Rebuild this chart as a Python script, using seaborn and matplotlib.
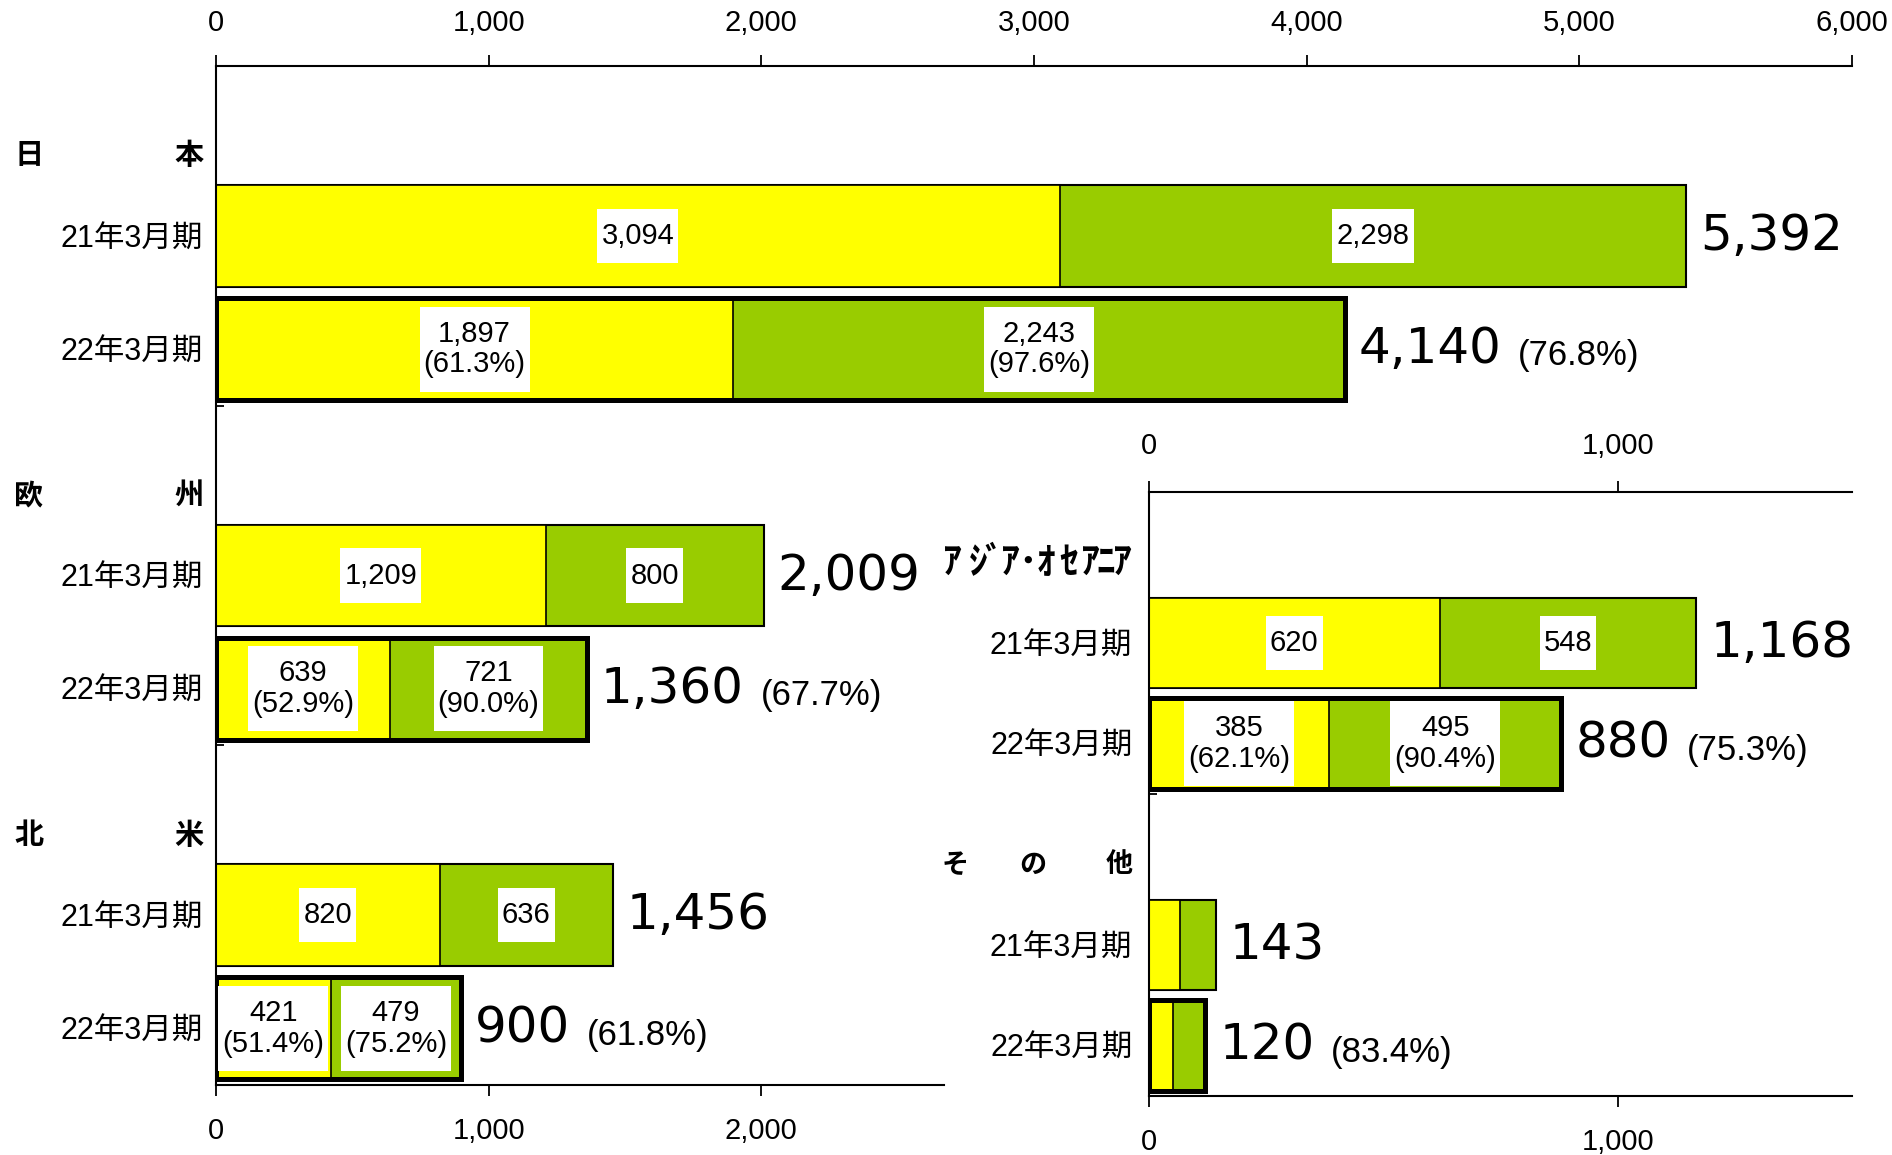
import numpy as np
import pandas as pd
import matplotlib
matplotlib.use('Agg')
import matplotlib.pyplot as plt
import matplotlib.transforms as mtransforms
from matplotlib.font_manager import FontProperties
from matplotlib.path import Path
import seaborn as sns

# ---------------- data ----------------
periods = ['21年3月期', '22年3月期']

left_regions = ['日本', '欧州', '北米']
left_head_chars = [['日', '本'], ['欧', '州'], ['北', '米']]
left_y21 = [3094, 1209, 820]
left_g21 = [2298, 800, 636]
left_y22 = [1897, 639, 421]
left_g22 = [2243, 721, 479]
left_y22_pct = ['61.3%', '52.9%', '51.4%']
left_g22_pct = ['97.6%', '90.0%', '75.2%']
left_tot_pct = ['76.8%', '67.7%', '61.8%']
left_show_seg = [True, True, True]

right_regions = ['アジア・オセアニア', 'その他']
right_head_chars = [list('ｱｼﾞｱ･ｵｾｱﾆｱ'), ['そ', 'の', '他']]
right_y21 = [620, 66]
right_g21 = [548, 77]
right_y22 = [385, 52]
right_g22 = [495, 68]
right_y22_pct = ['62.1%', '']
right_g22_pct = ['90.4%', '']
right_tot_pct = ['75.3%', '83.4%']
right_show_seg = [True, False]

left_top_ticks = [0, 1000, 2000, 3000, 4000, 5000, 6000]
left_bottom_ticks = [0, 1000, 2000]
right_ticks = [0, 1000]

YELLOW = '#FFFF00'
GREEN = '#99CC00'

# ---------------- fonts ----------------
CJK = 'Noto Sans CJK JP'
plt.rcParams['font.family'] = ['Liberation Sans', CJK, 'DejaVu Sans']
TICK_FS = 21
BAR_FS = 21
PCT_FS = 25


def numfp(size):
    return FontProperties(family='Liberation Sans', size=size)


def label_boxstyle(x0, y0, width, height, mutation_size):
    px = 0.14 * mutation_size
    py = 0.45 * mutation_size
    x0, y0 = x0 - px, y0 - py
    x1, y1 = x0 + width + 2 * px, y0 + height + 2 * py
    return Path([(x0, y0), (x1, y0), (x1, y1), (x0, y1), (x0, y0)], closed=True)


W, H = 1892, 1155
fig = plt.figure(figsize=(W / 100, H / 100), dpi=100)
fig.patch.set_facecolor('white')

def px_axes(l, t, r, b):
    return [l / W, 1 - b / H, (r - l) / W, (b - t) / H]

axL = fig.add_axes(px_axes(216, 66, 1852, 1085))
axR = fig.add_axes(px_axes(1149, 492, 1852, 1096))
axR.set_zorder(3)
axR.set_facecolor('white')


def build(regions, y21, g21, y22, g22):
    rows, order = [], []
    for i, r in enumerate(regions):
        order.append(f'{r}|h')
        for p, yv, gv in ((periods[0], y21[i], g21[i]), (periods[1], y22[i], g22[i])):
            key = f'{r}|{p}'
            order.append(key)
            rows.append(dict(key=key, region=r, period=p, yellow=yv, green=gv, total=yv + gv))
    return pd.DataFrame(rows), order


def draw(ax, df, order):
    common = dict(y='key', order=order, orient='h', width=0.9, errorbar=None, ax=ax)
    sns.barplot(data=df, x='total', color=GREEN, saturation=1, edgecolor='black', linewidth=1.5, **common)
    sns.barplot(data=df, x='yellow', color=YELLOW, saturation=1, edgecolor='black', linewidth=1.2, **common)
    sns.barplot(data=df[df.period == periods[1]], x='total', color='black', fill=False,
                edgecolor='black', linewidth=3.6, **common)
    ax.set_xlabel('')
    ax.set_ylabel('')


def label_box(ax, x, y, s):
    ax.text(x, y, s, ha='center', va='center', fontproperties=numfp(BAR_FS),
            linespacing=1.12, zorder=5,
            bbox=dict(boxstyle=label_boxstyle, facecolor='white', edgecolor='none'))


def annotate(ax, df, order, regions, y22p, g22p, totp, show):
    for i, r in enumerate(regions):
        for j, p in enumerate(periods):
            row = df[(df['region'] == r) & (df['period'] == p)].iloc[0]
            pos = order.index(row['key'])
            yv, gv, tv = int(row['yellow']), int(row['green']), int(row['total'])
            if show[i]:
                if j == 0:
                    ys = f'{yv:,}'
                    gs = f'{gv:,}'
                else:
                    ys = f'{yv:,}\n({y22p[i]})'
                    gs = f'{gv:,}\n({g22p[i]})'
                label_box(ax, yv / 2, pos, ys)
                label_box(ax, yv + gv / 2, pos, gs)
            t = ax.annotate(f'{tv:,}', xy=(tv, pos), xytext=(10, 0),
                            textcoords='offset points', ha='left', va='center',
                            fontsize=36, family='DejaVu Sans', annotation_clip=False)
            if j == 1:
                ax.annotate(f'({totp[i]})', xy=(1, 0.5), xycoords=t, xytext=(12, -5),
                            textcoords='offset points', ha='left', va='center',
                            fontproperties=numfp(PCT_FS))


def style(ax, order, minor):
    for s in ax.spines.values():
        s.set_linewidth(1.5)
        s.set_color('black')
    ax.spines['right'].set_visible(False)
    pos = [k for k, c in enumerate(order) if not c.endswith('|h')]
    ax.set_yticks(pos, [c.split('|')[1] for c in order if not c.endswith('|h')])
    for lab in ax.get_yticklabels():
        lab.set_fontsize(22)
        lab.set_family(['Liberation Sans', CJK])
    ax.tick_params(axis='y', which='major', length=0)
    ax.set_yticks(minor, minor=True)
    ax.tick_params(axis='y', which='minor', length=6, width=1.3, direction='in')


def num_ticklabels(axis_obj):
    for lab in axis_obj.get_xticklabels():
        lab.set_fontproperties(numfp(TICK_FS))


# ---------------- left panel ----------------
dfL, orderL = build(left_regions, left_y21, left_g21, left_y22, left_g22)
draw(axL, dfL, orderL)
annotate(axL, dfL, orderL, left_regions, left_y22_pct, left_g22_pct, left_tot_pct, left_show_seg)
axL.set_xlim(0, 6000)
axL.set_ylim(len(orderL) - 0.5, -0.5)
style(axL, orderL, [2.5, 5.5])
axL.tick_params(axis='y', which='major', pad=9.5)
axL.spines['bottom'].set_visible(False)
axL.set_xticks(left_top_ticks, [f'{t:,}' for t in left_top_ticks])
axL.tick_params(axis='x', top=True, labeltop=True, bottom=False, labelbottom=False,
                length=8, width=1.3, pad=13)
num_ticklabels(axL)
secL = axL.secondary_xaxis('bottom')
secL.set_xticks(left_bottom_ticks, [f'{t:,}' for t in left_bottom_ticks])
secL.tick_params(axis='x', length=8, width=1.3, pad=15)
num_ticklabels(secL)
secL.spines['bottom'].set_bounds(0, 2670)
secL.spines['bottom'].set_linewidth(1.5)

blendL = mtransforms.blended_transform_factory(fig.transFigure, axL.transData)
for i, r in enumerate(left_regions):
    y = orderL.index(f'{r}|h') + 0.29
    c1, c2 = left_head_chars[i]
    axL.text(29 / W, y, c1, transform=blendL, ha='center', va='center', fontsize=21,
             fontweight='bold', family=CJK, clip_on=False)
    axL.text(189 / W, y, c2, transform=blendL, ha='center', va='center', fontsize=21,
             fontweight='bold', family=CJK, clip_on=False)

# ---------------- right panel ----------------
dfR, orderR = build(right_regions, right_y21, right_g21, right_y22, right_g22)
draw(axR, dfR, orderR)
annotate(axR, dfR, orderR, right_regions, right_y22_pct, right_g22_pct, right_tot_pct, right_show_seg)
axR.set_xlim(0, 1500)
axR.set_ylim(len(orderR) - 0.5, -0.5)
style(axR, orderR, [2.5])
axR.tick_params(axis='y', which='major', pad=12)
axR.set_xticks(right_ticks, [f'{t:,}' for t in right_ticks])
axR.tick_params(axis='x', top=True, labeltop=True, bottom=True, labelbottom=True,
                length=8, width=1.3, pad=15)
num_ticklabels(axR)

blendR = mtransforms.blended_transform_factory(fig.transFigure, axR.transData)
asia = right_head_chars[0]
ya = orderR.index(f'{right_regions[0]}|h') + 0.2
xs = [952, 978, 994, 1010, 1028, 1046, 1069, 1090, 1106, 1122]
for ch, xp in zip(asia, xs):
    axR.text(xp / W, ya, ch, transform=blendR, ha='center', va='center', fontsize=27,
             fontweight='bold', family=CJK, clip_on=False)
yo = orderR.index(f'{right_regions[1]}|h') + 0.2
for ch, xp in zip(right_head_chars[1], [955, 1033, 1119]):
    axR.text(xp / W, yo, ch, transform=blendR, ha='center', va='center', fontsize=19.5,
             fontweight='bold', family=CJK, clip_on=False)

fig.savefig('out.png', dpi=100, facecolor='white')
